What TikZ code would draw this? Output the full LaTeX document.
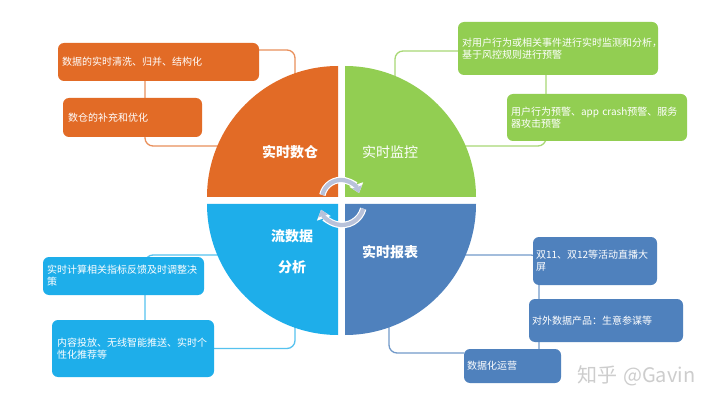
\documentclass[tikz,border=0pt]{standalone}
\usepackage{fontspec}
\setmainfont{Noto Sans CJK SC}
\usetikzlibrary{arrows.meta}
\pgfdeclarelayer{bg}
\pgfdeclarelayer{paper}
\pgfsetlayers{paper,bg,main}
\definecolor{cor}{RGB}{226,107,38}
\definecolor{cgr}{RGB}{146,206,82}
\definecolor{clb}{RGB}{30,174,234}
\definecolor{cdb}{RGB}{79,129,189}
\definecolor{carr}{RGB}{184,194,218}
\definecolor{cwm}{RGB}{205,205,205}
\tikzset{
  box/.style={rounded corners=6pt, text=white, font=\fontsize{10}{12}\selectfont, align=left, inner ysep=2pt, outer sep=0pt},
  obox/.style={box, fill=cor},
  gbox/.style={box, fill=cgr},
  lbox/.style={box, fill=clb},
  dbox/.style={box, fill=cdb},
  conn/.style={line width=1.3pt, rounded corners=8pt},
  oline/.style={conn, draw=cor!75},
  gline/.style={conn, draw=cgr!80},
  lline/.style={conn, draw=clb!75},
  dline/.style={conn, draw=cdb!80},
  qlabel/.style={text=white, font=\fontsize{14}{16}\selectfont\bfseries},
  qlabeln/.style={text=white, font=\fontsize{14}{16}\selectfont},
  arrw/.style={line width=6.5pt, draw=white, -{Triangle[width=14pt,length=9pt]}},
  arrc/.style={line width=4.2pt, draw=carr, -{Triangle[width=10pt,length=6.5pt]}},
}
\begin{document}
\begin{tikzpicture}[x=1pt,y=-1pt]
\begin{pgfonlayer}{paper}
\useasboundingbox (0,0) rectangle (720,406);
\fill[white] (0,0) rectangle (720,406);
\end{pgfonlayer}

% connector anchor coordinates (inside boxes / circle)
\coordinate (oc1) at (295,110);
\coordinate (ot) at (145,70);
\coordinate (oc2) at (240,146);
\coordinate (gc1) at (395,110);
\coordinate (gt) at (546,60);
\coordinate (gc2) at (440,146);
\coordinate (lc1) at (240,255);
\coordinate (lt) at (145,340);
\coordinate (lc2) at (295,300);
\coordinate (dc1) at (440,255);
\coordinate (dt) at (539,360);
\coordinate (dc2) at (389,300);

% boxes
\path
  node[obox, minimum width=201pt, minimum height=38pt, text width=193pt, inner xsep=4pt] (O1) at (158.5,62) {数据的实时清洗、归并、结构化}
  node[obox, minimum width=139pt, minimum height=39pt, text width=129pt, inner xsep=5pt] (O2) at (132.5,117.5) {数仓的补充和优化}
  node[gbox, minimum width=200pt, minimum height=53pt, text width=192pt, inner xsep=4pt] (G1) at (558,48.5) {对用户行为或相关事件进行实时监测和分析，\\基于风控规则进行预警}
  node[gbox, minimum width=180pt, minimum height=47pt, text width=172pt, inner xsep=4pt] (G2) at (597,117.5) {用户行为预警、app crash预警、服务\\器攻击预警}
  node[lbox, minimum width=161pt, minimum height=38pt, text width=153pt, inner xsep=4pt] (B1) at (123.5,276) {实时计算相关指标反馈及时调整决\\策}
  node[lbox, minimum width=162pt, minimum height=57pt, text width=152pt, inner xsep=5pt] (B2) at (133,348.5) {内容投放、无线智能推送、实时个\\性化推荐等}
  node[dbox, minimum width=124pt, minimum height=48pt, text width=118pt, inner xsep=3pt] (D1) at (595,261) {双11、双12等活动直播大\\屏}
  node[dbox, minimum width=154pt, minimum height=43pt, text width=148pt, inner xsep=3pt] (D2) at (606,320.5) {对外数据产品：生意参谋等}
  node[dbox, minimum width=97pt, minimum height=34pt, text width=91pt, inner xsep=3pt] (D3) at (512.5,366) {数据化运营};

% connectors (behind)
\begin{pgfonlayer}{bg}
\draw[oline] ([yshift=12pt]O1.east) -| (oc1);
\draw[oline] (ot) |- (oc2);
\draw[gline] ([yshift=-2.5pt]G1.west) -| (gc1);
\draw[gline] (gt) |- (gc2);
\draw[lline] (lc1) -| (lt);
\draw[lline] (B2.east) -| (lc2);
\draw[dline] (dc1) -| (dt);
\draw[dline] (dc2) |- ([yshift=13pt]D3.west);
\end{pgfonlayer}

% quadrants
\fill[cor] (338,197) -- (207,197) arc[start angle=180, end angle=270, radius=131] -- cycle;
\fill[cgr] (345,197) -- (345,66) arc[start angle=270, end angle=360, radius=131] -- cycle;
\fill[cdb] (345,204) -- (476,204) arc[start angle=0, end angle=90, radius=131] -- cycle;
\fill[clb] (338,204) -- (338,335) arc[start angle=90, end angle=180, radius=131] -- cycle;

\node[qlabel] (q1) at (290,152) {实时数仓};
\node[qlabeln] (q2) at (390,152) {实时监控};
\node[qlabel] (q3a) at (292,236) {流数据};
\node[qlabel] (q3b) at (292,267) {分析};
\node[qlabel] (q4) at (390,252) {实时报表};

% circular arrows
\draw[arrw] (322.4,195) arc[start angle=192, end angle=342, radius=19];
\draw[arrc] (322.4,195) arc[start angle=192, end angle=342, radius=19];
\draw[arrw] (363.25,208.7) arc[start angle=15, end angle=162, radius=22];
\draw[arrc] (363.25,208.7) arc[start angle=15, end angle=162, radius=22];

% watermark
\node[text=cwm, font=\fontsize{20}{22}\selectfont, anchor=west, inner sep=0pt] (wm) at (577,376) {知乎\hspace{6pt}@Gavin};
\end{tikzpicture}
\end{document}
